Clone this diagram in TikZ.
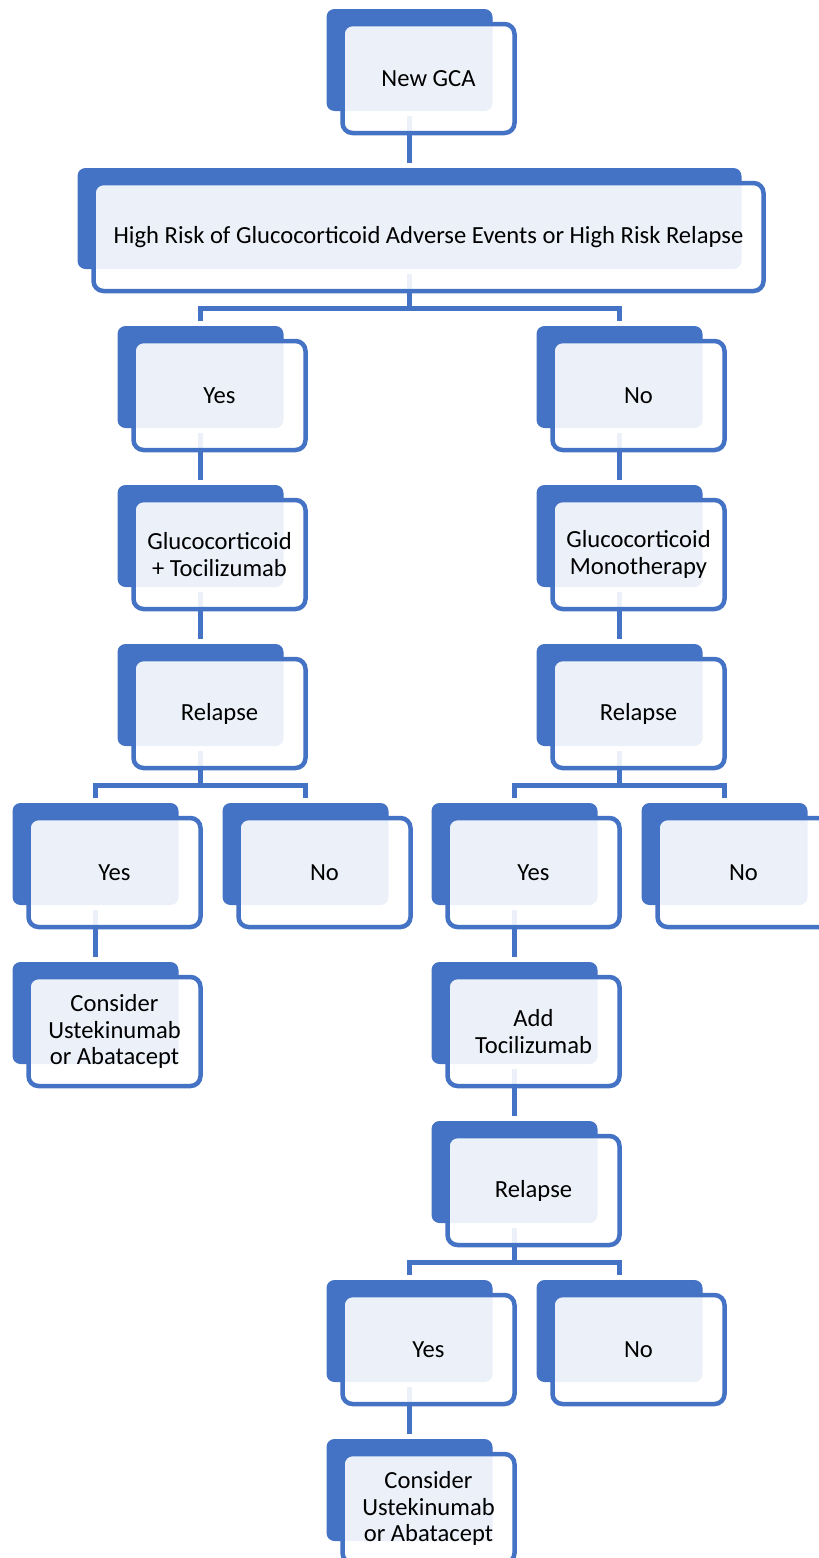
\documentclass[tikz,border=0pt]{standalone}
\usepackage{fontspec}
\setmainfont{Carlito}
\usetikzlibrary{positioning}
\definecolor{gblue}{HTML}{4472C4}
\tikzset{
  back/.style={fill=gblue, rounded corners=4pt, minimum width=83pt, minimum height=51pt, inner sep=0pt, outer sep=2.5pt},
  front/.style={draw=gblue, line width=2.25pt, fill=white, fill opacity=0.9, text opacity=1, rounded corners=5pt,
    minimum width=86pt, minimum height=54.5pt, inner sep=0pt, align=center, xshift=9.5pt, yshift=-9.25pt,
    font=\fontsize{12.3pt}{13.4pt}\selectfont},
  link/.style={draw=gblue, line width=2.5pt},
}
\begin{document}
\begin{tikzpicture}[x=0.5pt, y=-0.5pt, node distance=23.5pt]
    \useasboundingbox (0,0) rectangle (819,1558);

    % dark plates behind every box
    \node [back] (gca) at (409.5,60) {}; % top
    \node [back, minimum width=332pt, minimum height=50.5pt, below=of gca] (risk) {}; % wide question
    \node [back, below=of risk, xshift=-104.5pt] (yes1) {}; % left branch
    \node [back, below=of risk, xshift=105pt] (no1) {}; % right branch
    \node [back, below=of yes1] (gct) {}; % steroid + toci
    \node [back, below=of no1] (gcm) {}; % steroid alone
    \node [back, below=of gct] (rel1) {}; % left relapse
    \node [back, below=of gcm] (rel2) {}; % right relapse
    \node [back, below=of rel1, xshift=-52.5pt] (yes2) {};
    \node [back, below=of rel1, xshift=52.5pt] (no2) {};
    \node [back, below=of rel2, xshift=-52.5pt] (yes3) {};
    \node [back, below=of rel2, xshift=52.5pt] (no3) {};
    \node [back, below=of yes2] (ust1) {}; % left end
    \node [back, below=of yes3] (addt) {}; % add toci
    \node [back, below=of addt] (rel3) {}; % last relapse
    \node [back, below=of rel3, xshift=-52.5pt] (yes4) {};
    \node [back, below=of rel3, xshift=52.5pt] (no4) {};
    \node [back, below=of yes4] (ust2) {}; % bottom end

    % fork points
    \coordinate [below=17pt of risk] (fork0);
    \coordinate [below=17pt of rel1] (fork1);
    \coordinate [below=17pt of rel2] (fork2);
    \coordinate [below=17pt of rel3] (fork3);

    % connectors
    \draw [link] (gca.south) -- (risk.north);
    \draw [link] (risk.south) -- (fork0);
    \draw [link] (yes1.north) |- (fork0) -| (no1.north);
    \draw [link] (yes1.south) -- (gct.north);
    \draw [link] (no1.south) -- (gcm.north);
    \draw [link] (gct.south) -- (rel1.north);
    \draw [link] (gcm.south) -- (rel2.north);
    \draw [link] (rel1.south) -- (fork1);
    \draw [link] (yes2.north) |- (fork1) -| (no2.north);
    \draw [link] (rel2.south) -- (fork2);
    \draw [link] (yes3.north) |- (fork2) -| (no3.north);
    \draw [link] (yes2.south) -- (ust1.north);
    \draw [link] (yes3.south) -- (addt.north);
    \draw [link] (addt.south) -- (rel3.north);
    \draw [link] (rel3.south) -- (fork3);
    \draw [link] (yes4.north) |- (fork3) -| (no4.north);
    \draw [link] (yes4.south) -- (ust2.north);

    % outlined boxes with the texts
    \node [front] (gcaF) at (gca) {New GCA};
    \node [front, minimum width=335pt, minimum height=54pt] (riskF) at (risk) {High Risk of Glucocorticoid Adverse Events or High Risk Relapse};
    \node [front] (yes1F) at (yes1) {Yes};
    \node [front] (no1F) at (no1) {No};
    \node [front] (gctF) at (gct) {Glucocorticoid\\+ Tocilizumab};
    \node [front] (gcmF) at (gcm) {Glucocorticoid\\Monotherapy};
    \node [front] (rel1F) at (rel1) {Relapse};
    \node [front] (rel2F) at (rel2) {Relapse};
    \node [front] (yes2F) at (yes2) {Yes};
    \node [front] (no2F) at (no2) {No};
    \node [front] (yes3F) at (yes3) {Yes};
    \node [front] (no3F) at (no3) {No};
    \node [front] (ust1F) at (ust1) {Consider\\Ustekinumab\\or Abatacept};
    \node [front] (addtF) at (addt) {Add\\Tocilizumab};
    \node [front] (rel3F) at (rel3) {Relapse};
    \node [front] (yes4F) at (yes4) {Yes};
    \node [front] (no4F) at (no4) {No};
    \node [front] (ust2F) at (ust2) {Consider\\Ustekinumab\\or Abatacept};
\end{tikzpicture}
\end{document}
